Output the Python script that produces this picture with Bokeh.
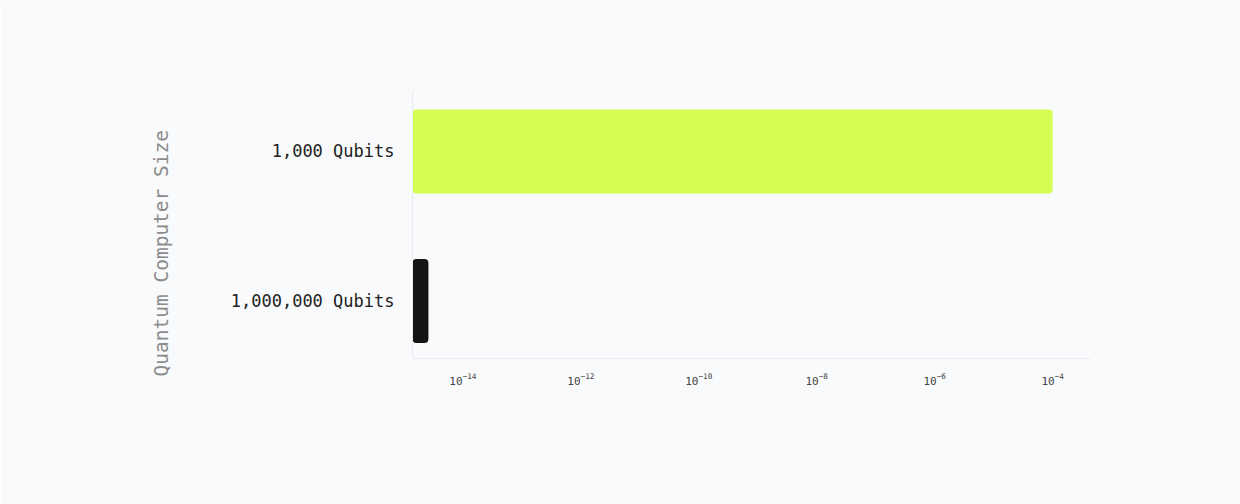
from bokeh.plotting import figure
from bokeh.models import Range1d, FixedTicker, Title
from bokeh.embed import file_html
from bokeh.resources import INLINE

# ---- data ----
categories = ["1,000 Qubits", "1,000,000 Qubits"]
values = [1e-4, 2.6e-15]
bar_colors = ["#d4ff52", "#141414"]
tick_exponents = [-14, -12, -10, -8, -6, -4]
y_title = "Quantum Computer Size"

BG = "#f9fafb"
FONT = "DejaVu Sans Mono"
x_min = 10 ** -14.855
x_max = 10 ** -3.358

n = len(categories)
positions = [n - 1 - i for i in range(n)]  # first category on top

p = figure(
    width=1240, height=504,
    x_axis_type="log",
    x_range=Range1d(x_min, x_max),
    y_range=Range1d(-0.385, 1.408),
    output_backend="svg", toolbar_location=None,
    min_border_left=412, min_border_right=150,
    min_border_top=90, min_border_bottom=146,
)
p.background_fill_color = BG
p.border_fill_color = BG
p.outline_line_color = None
p.xgrid.visible = False
p.ygrid.visible = False

p.hbar(y=positions, left=x_min, right=values, height=0.562,
       fill_color=bar_colors, line_color=None, border_radius=4)

xa = p.xaxis[0]
xa.ticker = FixedTicker(ticks=[10.0 ** e for e in tick_exponents])
xa.major_tick_line_color = None
xa.minor_tick_line_color = None
xa.axis_line_color = "#e9ebee"
xa.major_label_text_font = FONT
xa.major_label_text_font_size = "11px"
xa.major_label_text_color = "#444444"
xa.major_label_standoff = 8

ya = p.yaxis[0]
ya.ticker = FixedTicker(ticks=positions)
ya.major_label_overrides = {pos: cat for pos, cat in zip(positions, categories)}
ya.major_tick_line_color = None
ya.minor_tick_line_color = None
ya.axis_line_color = "#e9ebee"
ya.major_label_text_font = FONT
ya.major_label_text_font_size = "17px"
ya.major_label_text_color = "#222222"
ya.major_label_standoff = 12

t = Title(text=y_title, align="left", offset=-18, vertical_align="middle",
          text_font=FONT, text_font_size="19.5px", text_font_style="normal",
          text_color="#8c8c8c", standoff=108)
p.add_layout(t, "left")

open("out.html", "w").write(file_html(p, INLINE))
